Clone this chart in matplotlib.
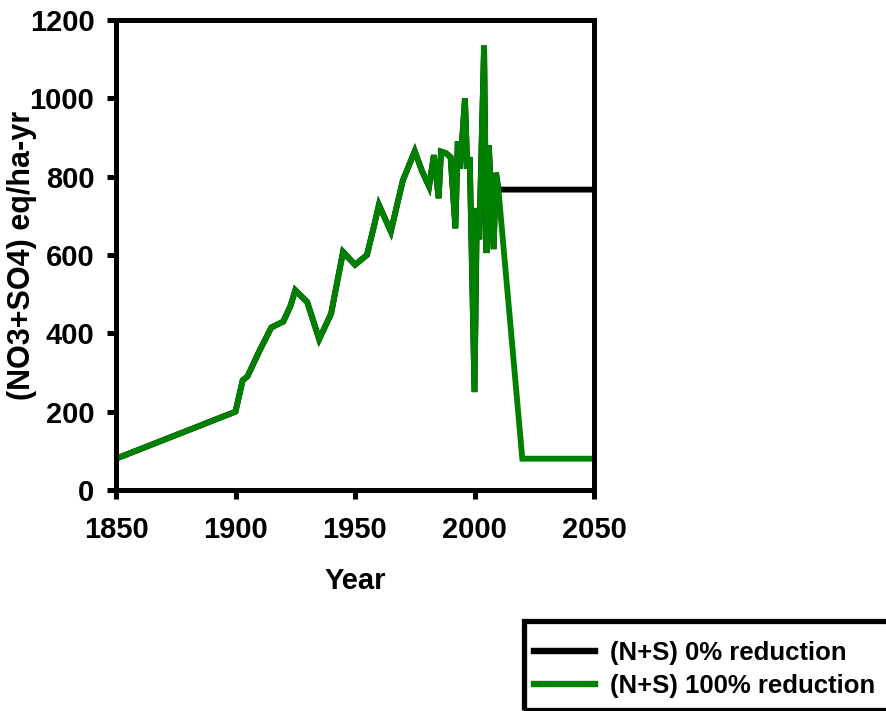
import matplotlib
matplotlib.use("Agg")
import matplotlib.pyplot as plt
from matplotlib.patches import Rectangle

plt.rcParams['font.family'] = ['Liberation Sans', 'DejaVu Sans']
plt.rcParams['font.weight'] = 'bold'

# deposition history (shared by both scenarios)
years_hist = [1850, 1900, 1903, 1905, 1910, 1915, 1920, 1923, 1925, 1930, 1935,
              1940, 1943, 1945, 1950, 1955, 1958, 1960, 1965, 1970, 1975, 1978,
              1981, 1983, 1985, 1986, 1988, 1990, 1992, 1993, 1994, 1996, 1997,
              1998, 2000, 2001, 2002, 2004, 2005, 2006, 2008, 2009, 2010]
dep_hist = [80, 200, 280, 290, 355, 415, 430, 470, 510, 480, 385,
            450, 545, 608, 575, 600, 675, 728, 660, 790, 865, 815,
            775, 855, 745, 864, 860, 850, 668, 890, 820, 1000, 820,
            850, 250, 720, 640, 1135, 605, 880, 615, 810, 767]

# future scenarios
years_0 = [2010, 2050]
dep_0 = [767, 767]
years_100 = [2010, 2020, 2050]
dep_100 = [767, 80, 80]

W, H = 887, 711
fig = plt.figure(figsize=(W / 100, H / 100), dpi=100)
ax = fig.add_axes([116 / W, 1 - 490 / H, 478 / W, 470 / H])

ax.plot(years_hist + years_0[1:], dep_hist + dep_0[1:], color='black', lw=4.2,
        solid_joinstyle='miter', label='(N+S) 0% reduction')
ax.plot(years_hist + years_100[1:], dep_hist + dep_100[1:], color='#008000', lw=4.2,
        solid_joinstyle='miter', label='(N+S) 100% reduction')

ax.set_xlim(1850, 2050)
ax.set_ylim(0, 1200)
ax.set_xticks([1850, 1900, 1950, 2000, 2050])
ax.set_yticks(range(0, 1201, 200))
for s in ax.spines.values():
    s.set_linewidth(3.6)
ax.tick_params(direction='out', length=6.5, width=3.6, labelsize=21)
ax.tick_params(axis='x', pad=12)
ax.tick_params(axis='y', pad=9)
for lab in ax.get_xticklabels() + ax.get_yticklabels():
    lab.set_fontweight('bold')

ax.set_xlabel('Year', fontsize=21, fontweight='bold')
ax.set_ylabel('(NO3+SO4) eq/ha-yr', fontsize=22, fontweight='bold')
ax.xaxis.set_label_coords(0.5, -0.163)
ax.yaxis.set_label_coords(-0.165, 0.5)

# legend box runs off the right edge of the figure
fig.patches.append(Rectangle((524 / W, 1 - 710 / H), 380 / W, 89 / H,
                             transform=fig.transFigure, fill=False,
                             edgecolor='black', lw=3.8, zorder=5))
leg = fig.legend(loc='upper left', bbox_to_anchor=(524 / W, 1 - 631 / H),
                 frameon=False, handlelength=2.35,
                 labelspacing=0.34, borderpad=0.4, handletextpad=0.58,
                 borderaxespad=0.0, prop={'weight': 'bold', 'size': 18.5})
for line in leg.get_lines():
    line.set_linewidth(4.6)

fig.savefig('out.png', dpi=100)
